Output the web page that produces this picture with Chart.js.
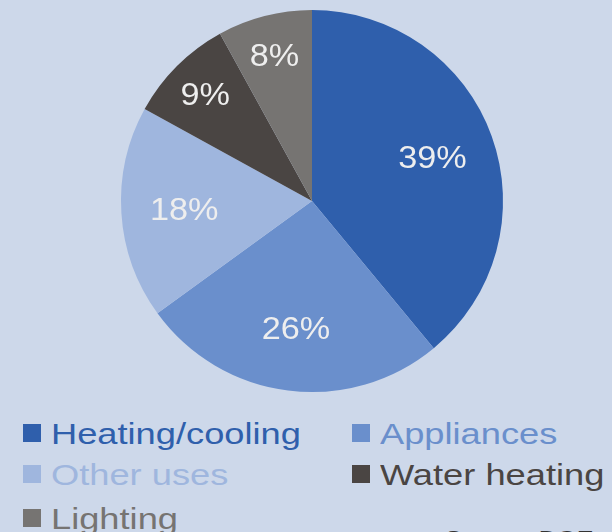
<!DOCTYPE html>
<html>
<head>
<meta charset="utf-8">
<script src="https://cdn.jsdelivr.net/npm/chart.js@4"></script>
<style>
  html, body { margin: 0; padding: 0; }
  body {
    width: 612px;
    height: 532px;
    overflow: hidden;
    background: #cdd8ea;
    position: relative;
    font-family: "Liberation Sans", Arial, sans-serif;
  }
  #wrap { position: absolute; left: 0; top: 0; width: 612px; height: 402px; }
  .item { position: absolute; height: 30px; white-space: nowrap; }
  .item .box { position: absolute; left: 0; top: 5px; width: 18px; height: 18px; }
  .item .txt {
    position: absolute; left: 28px; top: 0;
    font-size: 29px; line-height: 30px;
    transform: scaleX(1.25); transform-origin: left center;
  }
  #source {
    position: absolute; left: 445px; top: 526px;
    font-size: 21px; color: #333;
    white-space: nowrap;
    transform: scaleX(1.2); transform-origin: left top;
  }
</style>
</head>
<body>
<div id="wrap"><canvas id="energy-use"></canvas></div>
<div id="legend"></div>
<div id="source">Source: DOE</div>
<script>
const categories = ["Heating/cooling", "Appliances", "Other uses", "Water heating", "Lighting"];
const shares = [39, 26, 18, 9, 8];
const colors = ["#2f5fac", "#6a8fcc", "#9fb6de", "#4a4543", "#767472"];

// white percentage labels inside the slices
const sliceLabels = {
  id: "sliceLabels",
  afterDatasetsDraw(chart) {
    const ctx = chart.ctx;
    const meta = chart.getDatasetMeta(0);
    ctx.save();
    ctx.fillStyle = "#eeeeee";
    ctx.font = "32px 'Liberation Sans', Arial, sans-serif";
    ctx.textAlign = "center";
    ctx.textBaseline = "middle";
    meta.data.forEach((arc, i) => {
      const p = arc.getProps(["x", "y", "startAngle", "endAngle", "outerRadius"], true);
      const mid = (p.startAngle + p.endAngle) / 2;
      const frac = shares[i] < 10 ? 0.79 : 0.67;
      const x = p.x + Math.cos(mid) * p.outerRadius * frac;
      const y = p.y + Math.sin(mid) * p.outerRadius * frac + 2;
      ctx.save();
      ctx.translate(x, y);
      ctx.scale(1.07, 1);
      ctx.fillText(shares[i] + "%", 0, 0);
      ctx.restore();
    });
    ctx.restore();
  },
};

new Chart(document.getElementById("energy-use"), {
  type: "pie",
  data: {
    labels: categories,
    datasets: [
      {
        data: shares,
        backgroundColor: colors,
        borderWidth: 0,
      },
    ],
  },
  options: {
    responsive: true,
    maintainAspectRatio: false,
    animation: false,
    layout: { padding: { left: 16, right: 4, top: 10, bottom: 10 } },
    plugins: {
      legend: { display: false },
      tooltip: { enabled: false },
    },
  },
  plugins: [sliceLabels],
});

// legend: two columns, filled row by row
const legend = document.getElementById("legend");
const colX = [23, 352];
const rowY = [419, 460, 504];
categories.forEach((name, i) => {
  const item = document.createElement("div");
  item.className = "item";
  item.style.left = colX[i % 2] + "px";
  item.style.top = rowY[Math.floor(i / 2)] + "px";
  const box = document.createElement("div");
  box.className = "box";
  box.style.background = colors[i];
  const txt = document.createElement("span");
  txt.className = "txt";
  txt.style.color = colors[i];
  txt.textContent = name;
  item.appendChild(box);
  item.appendChild(txt);
  legend.appendChild(item);
});
</script>
</body>
</html>
